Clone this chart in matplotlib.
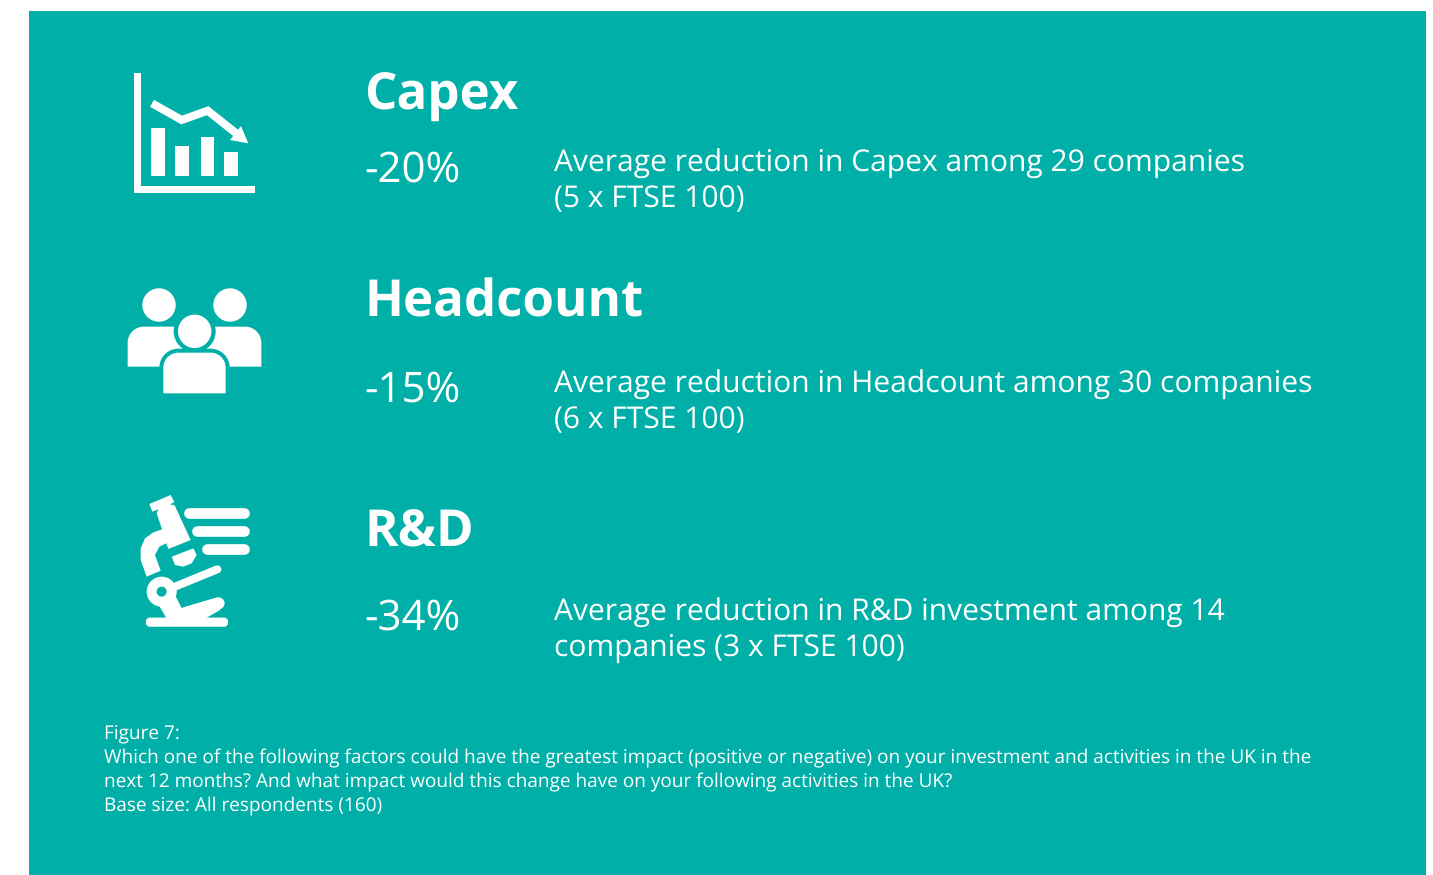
import matplotlib
matplotlib.use("Agg")
import matplotlib.pyplot as plt
from matplotlib.patches import Rectangle, Circle, Polygon, FancyBboxPatch, PathPatch
from matplotlib.path import Path

plt.rcParams["text.hinting"] = "no_hinting"
plt.rcParams["text.hinting_factor"] = 1

TEAL = "#00B0A8"
WHITE = "#FFFFFF"
FONT = "Open Sans"

headings = ["Capex", "Headcount", "R&D"]
values = ["-20%", "-15%", "-34%"]
descriptions = [
    "Average reduction in Capex among 29 companies\n(5 x FTSE 100)",
    "Average reduction in Headcount among 30 companies\n(6 x FTSE 100)",
    "Average reduction in R&D investment among 14\ncompanies (3 x FTSE 100)",
]
heading_y = [96, 303, 533]
value_y = [171, 391, 619]
desc_y = [[164, 199.5], [385, 420], [613, 648]]
footnote = [
    "Figure 7:",
    "Which one of the following factors could have the greatest impact (positive or negative) on your investment and activities in the UK in the",
    "next 12 months? And what impact would this change have on your following activities in the UK?",
    "Base size: All respondents (160)",
]
foot_y = [734.5, 758.5, 782.5, 806]

fig = plt.figure(figsize=(14.33, 8.75), dpi=100, facecolor="white")
ax = fig.add_axes([0, 0, 1, 1])
ax.set_xlim(0, 1433)
ax.set_ylim(875, 0)
ax.axis("off")
ax.add_patch(Rectangle((29, 11), 1397, 864, fc=TEAL, ec="none"))

# ---------- icon helpers: coordinates measured in 3x crops
def mapper(ox, oy):
    return lambda pts: [(ox + x / 3, oy + y / 3) for x, y in pts]

def poly(pts, color=WHITE, z=3):
    ax.add_patch(Polygon(pts, closed=True, fc=color, ec="none", zorder=z))

def stroke(pts, lw, cap="round", join="round", color=WHITE, z=3):
    xs, ys = zip(*pts)
    ax.plot(xs, ys, color=color, lw=lw * 0.72, solid_capstyle=cap,
            solid_joinstyle=join, zorder=z)

def round_top(x0, x1, top, bottom, r, color=WHITE, z=3):
    k = 0.5523 * r
    verts = [(x0, bottom), (x0, top + r), (x0, top + r - k), (x0 + r - k, top), (x0 + r, top),
             (x1 - r, top), (x1 - r + k, top), (x1, top + r - k), (x1, top + r),
             (x1, bottom), (x0, bottom)]
    codes = [Path.MOVETO, Path.LINETO, Path.CURVE4, Path.CURVE4, Path.CURVE4, Path.LINETO,
             Path.CURVE4, Path.CURVE4, Path.CURVE4, Path.LINETO, Path.CLOSEPOLY]
    ax.add_patch(PathPatch(Path(verts, codes), fc=color, ec="none", zorder=z))

# ---------- chart icon
m = mapper(110, 50)
poly(m([(73, 68), (93, 68), (93, 408), (434, 408), (434, 428), (73, 428)]))
for x0, x1, top in [(124, 164, 234), (196, 236, 288), (272, 311, 261), (343, 383, 306)]:
    poly(m([(x0, top), (x1, top), (x1, 378), (x0, 378)]))
stroke(m([(126, 160), (215, 210), (293, 182), (385, 255)]), 8, cap="butt", join="miter")
poly(m([(415, 280), (360, 270), (393, 228)]))

# ---------- people icon
m = mapper(110, 270)
for cx, cy in m([(147, 105), (360, 105)]):
    ax.add_patch(Circle((cx, cy), 16.7, fc=WHITE, ec="none", zorder=3))
(l0, t0), (l1, b0) = m([(53, 170), (240, 290)])
round_top(l0, l1, t0, b0, 16)
(l0, t0), (l1, b0) = m([(267, 170), (454, 290)])
round_top(l0, l1, t0, b0, 16)
(fx, fy) = m([(254, 184)])[0]
ax.add_patch(Circle((fx, fy), 21, fc=TEAL, ec="none", zorder=4))
ax.add_patch(Circle((fx, fy), 16.7, fc=WHITE, ec="none", zorder=5))
(l0, t0), (l1, b0) = m([(148, 236), (359, 372)])
round_top(l0, l1, t0, b0, 19, color=TEAL, z=4)
(l0, t0), (l1, b0) = m([(160, 248), (347, 370)])
round_top(l0, l1, t0, b0, 15, z=5)

# ---------- microscope icon
m = mapper(120, 480)
for x0, y in [(208, 99), (232, 154), (260, 208)]:
    stroke(m([(x0, y), (371, y)]), 10.7)
poly(m([(88, 72), (152, 45), (163, 66), (150, 73), (164, 76), (212, 180), (145, 207),
        (139, 190), (118, 200), (105, 225), (122, 272), (80, 290), (62, 240), (62, 205),
        (75, 175), (100, 157), (126, 148), (110, 100), (115, 88), (97, 95)]))
poly(m([(155, 230), (220, 205), (230, 225), (215, 250), (190, 260), (165, 255)]))
stroke(m([(160, 322), (292, 268)]), 8)
(cx, cy) = m([(125, 335)])[0]
ax.add_patch(Circle((cx, cy), 15, fc=WHITE, ec="none", zorder=3))
ax.add_patch(Circle((cx, cy), 5, fc=TEAL, ec="none", zorder=4))
poly(m([(118, 378), (165, 345), (185, 384), (292, 352), (300, 390), (255, 416), (140, 416)]))
stroke(m([(200, 398), (296, 370)]), 12)
ax.add_patch(FancyBboxPatch(m([(84, 419)])[0], 78, 5,
                            boxstyle="round,pad=0,rounding_size=2", fc=WHITE, ec=WHITE,
                            lw=3, zorder=3))

# ---------- text
for h, y in zip(headings, heading_y):
    ax.text(364, y, h, color=WHITE, fontsize=37, fontweight="bold", family=FONT,
            ha="left", va="center")
for v, y in zip(values, value_y):
    ax.text(364.5, y, v, color=WHITE, fontsize=30.5, family=FONT, fontweight="normal",
            ha="left", va="center")
for d, ys in zip(descriptions, desc_y):
    for line, y in zip(d.split("\n"), ys):
        ax.text(554, y, line, color=WHITE, fontsize=21.55, family=FONT, ha="left", va="center")
for line, y in zip(footnote, foot_y):
    ax.text(104, y, line, color=WHITE, fontsize=13.76, family=FONT, ha="left", va="center")

fig.savefig("out.png", dpi=100, facecolor="white")
